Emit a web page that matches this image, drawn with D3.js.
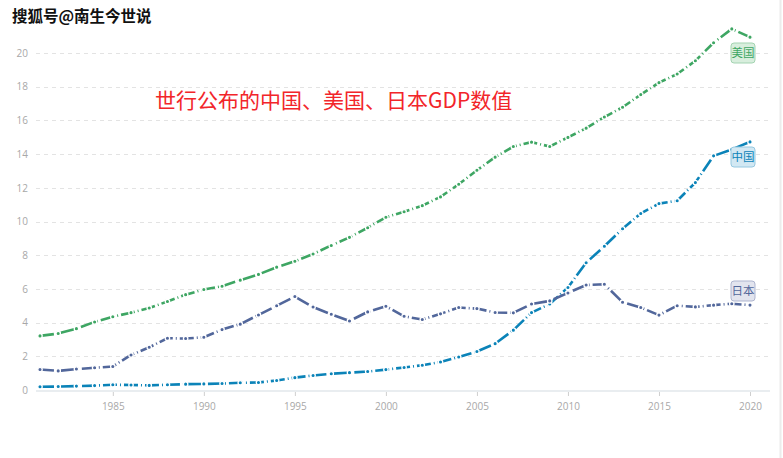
<!DOCTYPE html>
<html>
<head>
<meta charset="utf-8">
<script src="https://cdn.jsdelivr.net/npm/d3@7/dist/d3.min.js"></script>
<style>
html,body{margin:0;padding:0;background:#fff;}
svg{display:block;font-family:"Open Sans","Noto Sans CJK SC",sans-serif;}
</style>
</head>
<body>
<svg id="chart" width="783" height="458"></svg>
<script>
const years = d3.range(1981, 2021);
const usa = [3.21,3.35,3.64,4.04,4.35,4.59,4.87,5.25,5.66,5.96,6.16,6.52,6.86,7.29,7.64,8.07,8.58,9.06,9.63,10.25,10.58,10.94,11.46,12.21,13.04,13.82,14.45,14.71,14.45,14.99,15.54,16.20,16.78,17.53,18.24,18.75,19.54,20.61,21.43,20.94];
const china = [0.196,0.205,0.230,0.260,0.309,0.301,0.273,0.312,0.348,0.361,0.383,0.427,0.445,0.564,0.734,0.863,0.962,1.029,1.094,1.211,1.339,1.471,1.660,1.955,2.286,2.752,3.552,4.594,5.102,6.087,7.552,8.532,9.570,10.476,11.062,11.233,12.310,13.895,14.280,14.723];
const japan = [1.218,1.134,1.243,1.318,1.399,2.079,2.533,3.072,3.055,3.133,3.584,3.909,4.454,4.999,5.546,4.923,4.492,4.098,4.636,4.968,4.374,4.183,4.519,4.893,4.831,4.601,4.579,5.106,5.289,5.759,6.233,6.272,5.212,4.897,4.445,5.004,4.931,5.037,5.123,5.040];
const yTicks = [0,2,4,6,8,10,12,14,16,18,20];
const xTicks = [1985,1990,1995,2000,2005,2010,2015,2020];
const seriesNames = ["美国","中国","日本"];
const title = "世行公布的中国、美国、日本GDP数值";
const watermark = "搜狐号@南生今世说";

const svg = d3.select("#chart");
const x = d3.scaleLinear().domain([1981, 2020]).range([40, 750]);
const y = d3.scaleLinear().domain([0, 20]).range([390, 53]);

// right border
svg.append("line").attr("x1",780.5).attr("x2",780.5).attr("y1",0).attr("y2",458)
  .attr("stroke","#ececec").attr("stroke-width",2);

// grid
const grid = svg.append("g");
grid.selectAll("line").data(yTicks.filter(d=>d>0)).join("line")
  .attr("x1",36).attr("x2",770)
  .attr("y1",d=>Math.round(y(d))+0.5).attr("y2",d=>Math.round(y(d))+0.5)
  .attr("stroke","#e3e3e3").attr("stroke-dasharray","4,4");

// y labels
const yAxis = d3.axisLeft(y).tickValues(yTicks).tickSize(0).tickPadding(0);
const yg = svg.append("g").attr("transform","translate(28,0)").call(yAxis);
yg.select(".domain").remove();
yg.selectAll("text").attr("fill","#a8a8a8").attr("font-size","10px").attr("font-family","Open Sans, sans-serif");

// x axis
const xAxis = d3.axisBottom(x).tickValues(xTicks).tickFormat(d3.format("d")).tickSize(4).tickPadding(7);
const xg = svg.append("g").attr("transform","translate(0,392)").call(xAxis);
xg.select(".domain").remove();
xg.selectAll(".tick line").attr("stroke","#cfcfcf");
xg.selectAll("text").attr("fill","#a8a8a8").attr("font-size","10px").attr("font-family","Open Sans, sans-serif");
svg.append("line").attr("x1",36).attr("x2",770).attr("y1",391).attr("y2",391)
  .attr("stroke","#e9edf0").attr("stroke-width",2);

const series = [
  {name: seriesNames[0], values: usa, color: "#3ea663", fill: "#d8eedd", border:"#a3d3b1"},
  {name: seriesNames[1], values: china, color: "#0b83b8", fill: "#d2e8f3", border:"#96c8e0"},
  {name: seriesNames[2], values: japan, color: "#52679b", fill: "#e2e4ee", border:"#aeb5cf"}
];

const line = d3.line().x((d,i)=>x(years[i])).y(d=>y(d));
series.forEach(s => {
  const g = svg.append("g");
  g.append("path").datum(s.values).attr("d", line)
    .attr("fill","none").attr("stroke", s.color).attr("stroke-width",2.6)
    .attr("stroke-dasharray","14,3,1,3").attr("stroke-linejoin","round");
  g.selectAll("circle").data(s.values).join("circle")
    .attr("cx",(d,i)=>x(years[i])).attr("cy",d=>y(d)).attr("r",2.2)
    .attr("fill",s.color).attr("stroke","#fff").attr("stroke-width",1.3);
});

// end labels
const labelY = [53, 157, 291];
series.forEach((s,i) => {
  const g = svg.append("g").attr("transform",`translate(743,${labelY[i]})`);
  g.append("rect").attr("x",-12).attr("y",-10).attr("width",24).attr("height",20).attr("rx",3)
    .attr("fill",s.fill).attr("stroke",s.border).attr("stroke-width",1);
  g.append("text").attr("text-anchor","middle").attr("dy","0.36em")
    .attr("font-size","11.5px").attr("fill",s.color)
    .attr("font-family","Noto Sans CJK SC, sans-serif").text(s.name);
});

// title
svg.append("text").attr("x",155).attr("y",108).attr("fill","#f2252a")
  .attr("font-size","21px").attr("font-family","Noto Sans CJK SC, sans-serif").text(title);

// watermark
svg.append("text").attr("x",12).attr("y",22).attr("fill","#111")
  .attr("stroke","#fff").attr("stroke-width",2.5).attr("paint-order","stroke")
  .attr("font-size","15.5px").attr("font-weight","bold")
  .attr("font-family","Noto Sans CJK SC, sans-serif").text(watermark);
</script>
</body>
</html>
